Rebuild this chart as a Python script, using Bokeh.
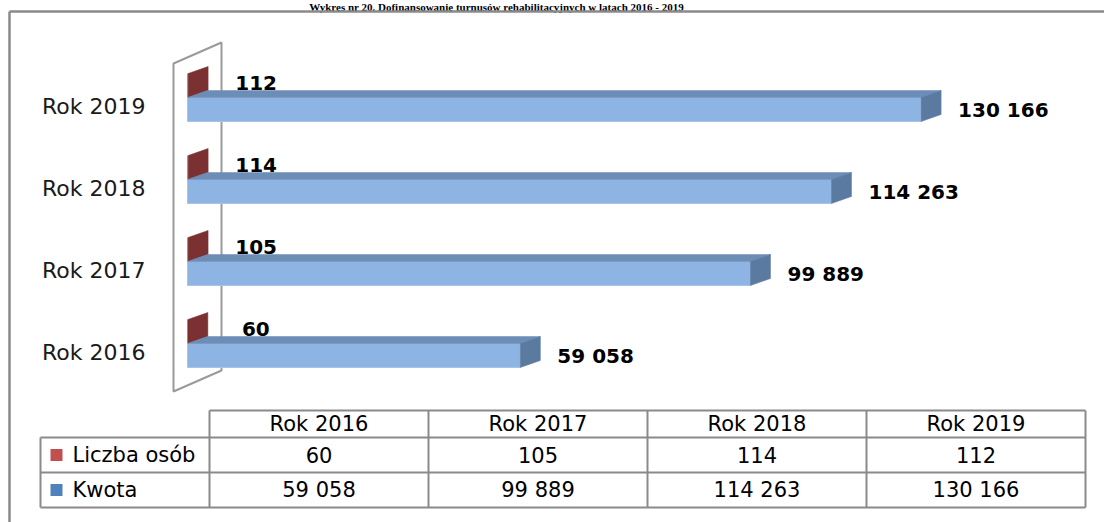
from bokeh.plotting import figure
from bokeh.models import Range1d, ColumnDataSource
from bokeh.core.properties import value
from bokeh.embed import file_html
from bokeh.resources import INLINE

# ---------------- data ----------------
title = "Wykres nr 20. Dofinansowanie turnusów rehabilitacyjnych w latach 2016 - 2019"
categories = ["Rok 2016", "Rok 2017", "Rok 2018", "Rok 2019"]
liczba_osob = [60, 105, 114, 112]
kwota = [59058, 99889, 114263, 130166]
series_names = ["Liczba osób", "Kwota"]
series_colors = ["#C0504D", "#4F81BD"]

# ---------------- layout constants ----------------
W, H = 1104, 522
PX = 0.005636          # pixels per unit of value
X0 = 187               # canvas x of value 0
CAT0, STEP = 355, 82   # canvas y of first category centre, spacing
FONT = value("DejaVu Sans")
GRAY = "#8a8a8a"


def fmt(v):
    return f"{v:,}".replace(",", " ")


p = figure(width=W, height=H, x_range=Range1d(0, W), y_range=Range1d(H, 0),
           output_backend="svg", toolbar_location=None, min_border=0,
           x_axis_location=None, y_axis_location=None)
p.grid.visible = False
p.outline_line_color = None
p.background_fill_color = "white"
p.border_fill_color = "white"

p.extra_x_ranges = {"val": Range1d(-X0 / PX, (W - X0) / PX)}
p.extra_y_ranges = {"cat": Range1d((CAT0 - H) / STEP, CAT0 / STEP)}

# document title (squeezed into the strip above the chart frame)
p.text(x=[496], y=[0], text=[title], text_font=value("Liberation Serif"),
       text_font_size=value("11px"), text_font_style="bold", text_color="black",
       text_align="center", text_baseline="top")

# outer chart border
p.multi_line(xs=[[9, 9], [9, W]], ys=[[11, H], [11, 11]], line_color=GRAY, line_width=2.5)

# 3D back wall
p.patch(x=[173, 221, 221, 173, 173], y=[63, 42, 370, 391, 63],
        fill_color="white", line_color="#9a9a9a", line_width=2)

# ---------------- bars ----------------
n = len(categories)
cpos = list(range(n))
half = 12 / STEP
dx = 20 / PX
dy = 7 / STEP

# red (Liczba osób) – end face visible above the blue bar
red_xs, red_ys = [], []
for c, r in zip(cpos, liczba_osob):
    b = c + half
    t = b + 2 * half
    red_xs.append([r, r + dx, r + dx, r])
    red_ys.append([b, b + dy, t + dy, t])
p.patches(xs=red_xs, ys=red_ys, fill_color="#7b3131", line_color="#7b3131", line_width=0.5,
          x_range_name="val", y_range_name="cat")
p.quad(left=[0] * n, right=liczba_osob, bottom=[c + half for c in cpos],
       top=[c + 3 * half for c in cpos], fill_color="#953735", line_color=None,
       x_range_name="val", y_range_name="cat")

# blue (Kwota)
src = ColumnDataSource(dict(
    left=[0] * n, right=kwota,
    bottom=[c - half for c in cpos], top=[c + half for c in cpos]))
p.quad(left="left", right="right", bottom="bottom", top="top", source=src,
       fill_color="#8EB4E3", line_color="#a9c4e8", line_width=1,
       x_range_name="val", y_range_name="cat")
top_xs, top_ys, side_xs, side_ys = [], [], [], []
for c, v in zip(cpos, kwota):
    b, t = c - half, c + half
    top_xs.append([0, dx, v + dx, v])
    top_ys.append([t, t + dy, t + dy, t])
    side_xs.append([v, v + dx, v + dx, v])
    side_ys.append([b, b + dy, t + dy, t])
p.patches(xs=top_xs, ys=top_ys, fill_color="#6C8DB6", line_color="#6C8DB6", line_width=0.5,
          x_range_name="val", y_range_name="cat")
p.patches(xs=side_xs, ys=side_ys, fill_color="#5B7AA0", line_color="#5B7AA0", line_width=0.5,
          x_range_name="val", y_range_name="cat")

# value labels
p.text(x=[v + 37 / PX for v in kwota], y=cpos, text=[fmt(v) for v in kwota],
       text_font=FONT, text_font_size=value("20px"), text_font_style="bold",
       text_color="black", text_align="left", text_baseline="middle",
       x_range_name="val", y_range_name="cat")
p.text(x=[r + 68 / PX for r in liczba_osob], y=[c + 27 / STEP for c in cpos],
       text=[fmt(r) for r in liczba_osob],
       text_font=FONT, text_font_size=value("20px"), text_font_style="bold",
       text_color="black", text_align="center", text_baseline="middle",
       x_range_name="val", y_range_name="cat")

# category labels
p.text(x=[-42 / PX] * n, y=[c + 3 / STEP for c in cpos], text=categories,
       text_font=FONT, text_font_size=value("22px"), text_color="#1a1a1a",
       text_align="right", text_baseline="middle",
       x_range_name="val", y_range_name="cat")

# ---------------- data table ----------------
TL, TC0, CW = 40, 209, 219
rows = [410, 437, 472, 507]
right = TC0 + CW * n
hx = [[TC0, right], [TL, right], [TL, right], [TL, right]]
hy = [[rows[0]] * 2, [rows[1]] * 2, [rows[2]] * 2, [rows[3]] * 2]
vx = [[TL, TL]] + [[TC0 + CW * j] * 2 for j in range(n + 1)]
vy = [[rows[1], rows[3]]] + [[rows[0], rows[3]] for _ in range(n + 1)]
p.multi_line(xs=hx + vx, ys=hy + vy, line_color=GRAY, line_width=2)

col_x = [TC0 + CW * (j + 0.5) for j in range(n)]
row_y = [(rows[k] + rows[k + 1]) / 2 for k in range(3)]
tfont = dict(text_font=FONT, text_font_size=value("21px"), text_color="black",
             text_baseline="middle")
p.text(x=col_x, y=[row_y[0]] * n, text=categories, text_align="center", **tfont)
p.text(x=col_x, y=[row_y[1]] * n, text=[fmt(v) for v in liczba_osob], text_align="center", **tfont)
p.text(x=col_x, y=[row_y[2]] * n, text=[fmt(v) for v in kwota], text_align="center", **tfont)

# legend keys in table
p.rect(x=[56, 56], y=[row_y[1], row_y[2]], width=12, height=12,
       fill_color=series_colors, line_color=None)
p.text(x=[72, 72], y=[row_y[1], row_y[2]], text=series_names, text_align="left", **tfont)

open("out.html", "w").write(file_html(p, INLINE))
